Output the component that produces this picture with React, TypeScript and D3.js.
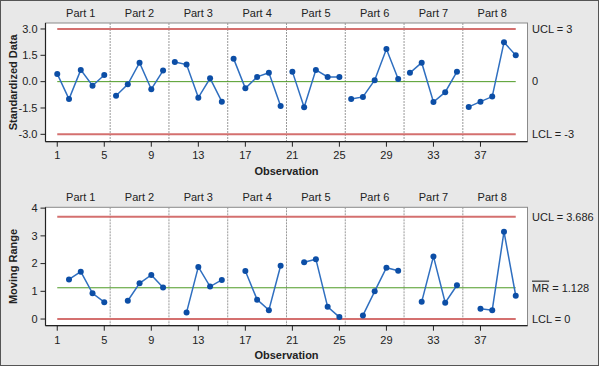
import React from "react";
import * as d3 from "d3";

const partLabels = ["Part 1", "Part 2", "Part 3", "Part 4", "Part 5", "Part 6", "Part 7", "Part 8"];
const obsPerPart = 5;
const xTicks = [1, 5, 9, 13, 17, 21, 25, 29, 33, 37];

const standardized = [
  0.44, -0.99, 0.67, -0.23, 0.38,
  -0.8, -0.15, 1.08, -0.43, 0.63,
  1.12, 0.97, -0.91, 0.19, -1.14,
  1.31, -0.38, 0.27, 0.51, -1.38,
  0.57, -1.46, 0.67, 0.27, 0.27,
  -0.99, -0.87, 0.08, 1.86, 0.15,
  0.5, 1.08, -1.16, -0.6, 0.57,
  -1.44, -1.14, -0.85, 2.24, 1.5,
];

// null = first observation of each part (no moving range)
const movingRange: (number | null)[] = [
  null, 1.43, 1.71, 0.93, 0.61,
  null, 0.66, 1.29, 1.59, 1.14,
  null, 0.24, 1.88, 1.17, 1.41,
  null, 1.73, 0.7, 0.32, 1.92,
  null, 2.05, 2.16, 0.44, 0.07,
  null, 0.13, 1.0, 1.85, 1.74,
  null, 0.62, 2.26, 0.59, 1.22,
  null, 0.37, 0.32, 3.15, 0.84,
];

const topTicks = [3.0, 1.5, 0.0, -1.5, -3.0];
const bottomTicks = [0, 1, 2, 3, 4];
const topLimits = { ucl: 3, center: 0, lcl: -3 };
const bottomLimits = { ucl: 3.686, center: 1.128, lcl: 0 };

const FONT = "'Liberation Sans', Arial, Helvetica, sans-serif";
const BLUE_LINE = "#2f6fc0";
const BLUE_DOT = "#0c4ea6";
const RED = "#d4706f";
const GREEN = "#4d9a24";

const x = d3.scaleLinear().domain([0, 41]).range([45.5, 527.5]);

type PanelProps = {
  top: number;
  bottom: number;
  y: d3.ScaleLinear<number, number>;
  values: (number | null)[];
  ticks: number[];
  tickFmt: (v: number) => string;
  yLabel: string;
  limits: { ucl: number; center: number; lcl: number };
  rightLabels: React.ReactNode[];
  partLabelY: number;
  tickLabelY: number;
  xLabelY: number;
};

function Panel(p: PanelProps) {
  const left = x.range()[0];
  const right = x.range()[1];
  const line = d3
    .line<[number, number]>()
    .x((d) => x(d[0]))
    .y((d) => p.y(d[1]));
  const segments: [number, number][][] = partLabels.map((_, pi) => {
    const seg: [number, number][] = [];
    for (let k = 0; k < obsPerPart; k++) {
      const i = pi * obsPerPart + k;
      const v = p.values[i];
      if (v !== null && v !== undefined) seg.push([i + 1, v]);
    }
    return seg;
  });
  const seps = partLabels.slice(1).map((_, i) => (i + 1) * obsPerPart + 0.5);
  const limitVals = [p.limits.ucl, p.limits.center, p.limits.lcl];
  return (
    <g>
      <rect x={left} y={p.top} width={right - left} height={p.bottom - p.top} fill="#fff" stroke="#8a8a8a" strokeWidth={1} />
      {seps.map((s) => (
        <line key={s} x1={x(s)} x2={x(s)} y1={p.top} y2={p.bottom} stroke="#999" strokeWidth={1} strokeDasharray="2,1" />
      ))}
      <line x1={x(1)} x2={x(40)} y1={p.y(p.limits.ucl)} y2={p.y(p.limits.ucl)} stroke={RED} strokeWidth={2} />
      <line x1={x(1)} x2={x(40)} y1={p.y(p.limits.lcl)} y2={p.y(p.limits.lcl)} stroke={RED} strokeWidth={2} />
      <line x1={x(1)} x2={x(40)} y1={p.y(p.limits.center)} y2={p.y(p.limits.center)} stroke={GREEN} strokeWidth={1} />
      {segments.map((seg, i) => (
        <path key={i} d={line(seg) || ""} fill="none" stroke={BLUE_LINE} strokeWidth={1.5} />
      ))}
      {segments.map((seg, i) =>
        seg.map((d) => <circle key={i + "-" + d[0]} cx={x(d[0])} cy={p.y(d[1])} r={3} fill={BLUE_DOT} />)
      )}
      {/* axes */}
      <line x1={left} x2={left} y1={p.top} y2={p.bottom} stroke="#222" strokeWidth={1.2} />
      <line x1={left} x2={right} y1={p.bottom} y2={p.bottom} stroke="#222" strokeWidth={1.2} />
      {p.ticks.map((t) => (
        <g key={t}>
          <line x1={left - 5} x2={left} y1={p.y(t)} y2={p.y(t)} stroke="#222" />
          <text x={left - 8} y={p.y(t)} dy="0.35em" textAnchor="end" fontSize={11} fill="#222" fontFamily={FONT}>
            {p.tickFmt(t)}
          </text>
        </g>
      ))}
      {xTicks.map((t) => (
        <g key={t}>
          <line x1={x(t)} x2={x(t)} y1={p.bottom} y2={p.bottom + 5} stroke="#222" />
          <text x={x(t)} y={p.tickLabelY} dy="0.35em" textAnchor="middle" fontSize={11} fill="#222" fontFamily={FONT}>
            {t}
          </text>
        </g>
      ))}
      {partLabels.map((l, i) => (
        <text key={l} x={x(i * obsPerPart + 3)} y={p.partLabelY} dy="0.35em" textAnchor="middle" fontSize={11} fill="#222" fontFamily={FONT}>
          {l}
        </text>
      ))}
      <text x={(left + right) / 2} y={p.xLabelY} dy="0.35em" textAnchor="middle" fontSize={11} fontWeight="bold" fill="#222" fontFamily={FONT}>
        Observation
      </text>
      <text
        transform={`translate(13,${(p.top + p.bottom) / 2}) rotate(-90)`}
        dy="0.35em"
        textAnchor="middle"
        fontSize={11}
        fontWeight="bold"
        fill="#222"
        fontFamily={FONT}
      >
        {p.yLabel}
      </text>
      {limitVals.map((v, i) => (
        <text key={i} x={532} y={p.y(v)} dy="0.35em" fontSize={11} fill="#222" fontFamily={FONT}>
          {p.rightLabels[i]}
        </text>
      ))}
    </g>
  );
}

export default function App() {
  const yTop = d3.scaleLinear().domain([-3.42, 3.34]).range([141.7, 23]);
  const yBot = d3.scaleLinear().domain([-0.24, 4.03]).range([325.7, 207.3]);
  return (
    <svg width={600} height={367} style={{ position: "absolute", left: 0, top: 0 }}>
      <rect x={0.5} y={0.5} width={598} height={365} fill="#e8e8e8" stroke="#555" strokeWidth={1} />
      <Panel
        top={23}
        bottom={141.7}
        y={yTop}
        values={standardized}
        ticks={topTicks}
        tickFmt={(v) => d3.format(".1f")(v).replace("−", "-")}
        yLabel="Standardized Data"
        limits={topLimits}
        rightLabels={[`UCL = ${topLimits.ucl}`, `${topLimits.center}`, `LCL = ${topLimits.lcl}`]}
        partLabelY={13.3}
        tickLabelY={155}
        xLabelY={171.5}
      />
      <Panel
        top={207.3}
        bottom={325.7}
        y={yBot}
        values={movingRange}
        ticks={bottomTicks}
        tickFmt={(v) => String(v)}
        yLabel="Moving Range"
        limits={bottomLimits}
        rightLabels={[
          `UCL = ${bottomLimits.ucl}`,
          <>
            <tspan textDecoration="overline" style={{ textDecoration: "overline" }}>MR</tspan>
            {` = ${bottomLimits.center}`}
          </>,
          `LCL = ${bottomLimits.lcl}`,
        ]}
        partLabelY={196.7}
        tickLabelY={340}
        xLabelY={355}
      />
    </svg>
  );
}
